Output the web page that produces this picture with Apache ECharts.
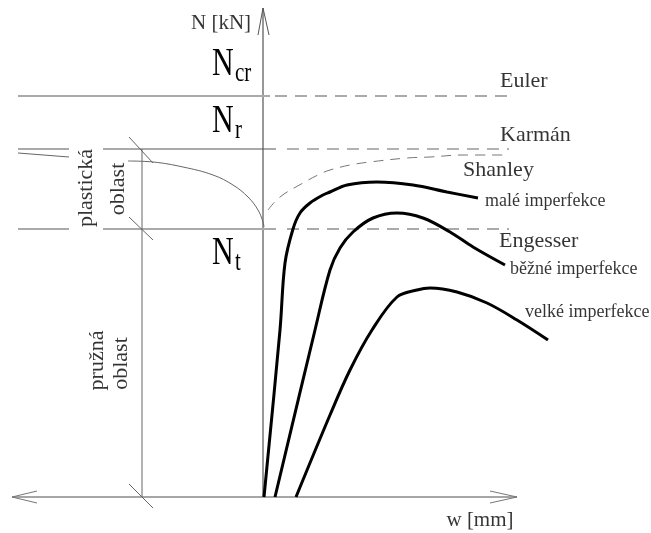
<!DOCTYPE html>
<html><head><meta charset="utf-8">
<script src="https://cdn.jsdelivr.net/npm/echarts@6/dist/echarts.min.js"></script>
<style>html,body{margin:0;padding:0;background:#fff}#c{width:651px;height:533px}</style>
</head><body><div id="c"></div>
<script>
// ---- data (w, N) with origin at the axis intersection ----
const N_cr = 401, N_r = 348, N_t = 268;
const wAxis = [[-251, 0], [254, 0]];
const wArrowLeft = [[-226, 6], [-251, 0], [-226, -6]];
const wArrowRight = [[227, 6], [254, 0], [227, -6]];
const nAxis = [[0, 0], [0, 489]];
const nArrow = [[-5, 462], [0, 489], [6, 462]];

const eulerSolid = [[-245, N_cr], [7, N_cr]];
const eulerDash = [[12, N_cr], [246, N_cr]];
const karmanSolidL = [[-245, N_r], [-194, N_r]];
const karmanSolid = [[-160, N_r], [13, N_r]];
const karmanDash = [[24, N_r], [246, N_r]];
const ntSolidL = [[-245, N_t], [-194, N_t]];
const ntSolid = [[-160, N_t], [13, N_t]];
const ntDash = [[24, N_t], [246, N_t]];

const regionLine = [[-121, 0], [-121, N_r]];
const tick1 = [[-134, 360], [-110, 334]];
const tick2 = [[-134, 280], [-110, 257]];
const tick3 = [[-134, 13], [-110, -11]];

const plasticLeft = [[-245, 344], [-194, 340]];
const plasticCurve = [[-135, 336], [-110, 335], [-80, 330], [-50, 322], [-30, 312], [-15, 300], [-5, 287], [0, 275], [1, 270]];
const shanley = [[5, 287], [17, 300], [40, 314], [57, 323], [67, 327], [87, 332], [107, 335], [144, 339], [167, 340], [200, 342], [245, 342]];

const smallImp = [[1, 0], [17, 167], [22, 234], [30, 268], [37, 284], [47, 294], [60, 302], [67, 305], [84, 312], [114, 315], [150, 312], [184, 305], [215, 299]];
const normalImp = [[12, 0], [52, 167], [67, 227], [77, 249], [90, 265], [110, 279], [134, 284], [160, 279], [187, 265], [210, 250], [242, 232]];
const largeImp = [[33, 0], [67, 82], [87, 127], [109, 167], [134, 200], [154, 207], [167, 209], [194, 205], [224, 194], [254, 177], [285, 157]];

const textLabels = [
  ['Euler', 237, 416],
  ['Karmán', 237, 362],
  ['Shanley', 200, 327],
  ['Engesser', 236, 256],
];
const smallLabels = [
  ['malé imperfekce', 222, 296],
  ['běžné imperfekce', 247, 228],
  ['velké imperfekce', 262, 185],
];
const axisNames = [
  ['N [kN]', -42, 474],
  ['w [mm]', 217, -23.5],
];
const regionLabels = [
  ['plastická', -177, 309],
  ['oblast', -145, 308],
  ['pružná', -166, 136.5],
  ['oblast', -142, 133.5],
];
const levelLabels = [
  ['N', 'cr', -51, 419],
  ['N', 'r', -51, 362],
  ['N', 't', -51, 230],
];

// ---- chart ----
const FONT = '"Liberation Serif", "Times New Roman", serif';
function seg(data, color, width, dash, smooth) {
  return {
    type: 'line', data: data, symbol: 'none', silent: true, clip: false,
    smooth: smooth || false,
    lineStyle: { color: color, width: width, type: dash || 'solid', cap: 'butt' },
    z: 2
  };
}
function labelSeries(items, size, align, rotate) {
  return {
    type: 'scatter', symbolSize: 0, silent: true, clip: false,
    data: items.map(d => ({ name: d[0], value: [d[1], d[2]] })),
    label: {
      show: true, position: [0, 0], formatter: p => p.name,
      align: align, verticalAlign: 'middle', rotate: rotate || 0,
      fontFamily: FONT, fontSize: size, color: '#000'
    },
    z: 5
  };
}

const chart = echarts.init(document.getElementById('c'), null, { renderer: 'canvas' });
chart.setOption({
  animation: false,
  backgroundColor: '#fff',
  grid: { left: 0, right: 0, top: 0, bottom: 0 },
  xAxis: { type: 'value', min: -263, max: 388, show: false },
  yAxis: { type: 'value', min: -36, max: 497, show: false },
  series: [
    seg(wAxis, '#a6a6a6', 2),
    seg(wArrowLeft, '#777', 1),
    seg(wArrowRight, '#777', 1),
    seg(nAxis, '#333', 1),
    seg(nArrow, '#555', 1),
    seg(eulerSolid, '#aaa', 2),
    seg(eulerDash, '#aaa', 2, [12, 8]),
    seg(karmanSolidL, '#555', 1),
    seg(karmanSolid, '#555', 1),
    seg(karmanDash, '#666', 1.2, [12, 8]),
    seg(ntSolidL, '#aaa', 2),
    seg(ntSolid, '#aaa', 2),
    seg(ntDash, '#aaa', 2, [12, 8]),
    seg(regionLine, '#666', 1),
    seg(tick1, '#666', 1),
    seg(tick2, '#666', 1),
    seg(tick3, '#666', 1),
    seg(plasticLeft, '#666', 1),
    seg(plasticCurve, '#666', 1, 'solid', 0.4),
    seg(shanley, '#777', 1, [10, 7], 0.4),
    seg(smallImp, '#000', 3, 'solid', 0.35),
    seg(normalImp, '#000', 3, 'solid', 0.35),
    seg(largeImp, '#000', 3, 'solid', 0.35),
    labelSeries(textLabels, 22, 'left'),
    labelSeries(smallLabels, 18, 'left'),
    labelSeries(axisNames, 21, 'center'),
    labelSeries(regionLabels, 22, 'center', 90),
    {
      type: 'custom', silent: true, clip: false, z: 6,
      data: levelLabels.map(d => [d[2], d[3], d[0], d[1]]),
      renderItem: function (params, api) {
        const p = api.coord([api.value(0), api.value(1)]);
        const d = levelLabels[params.dataIndex];
        return {
          type: 'group',
          children: [
            { type: 'text', x: p[0], y: p[1], scaleY: 1.3,
              style: { text: d[0], x: 0, y: -0.3375 * 30, font: '30px ' + FONT, fill: '#000', align: 'left', verticalAlign: 'middle' } },
            { type: 'text', x: p[0] + 23, y: p[1] + 5, scaleY: 1.35,
              style: { text: d[1], x: 0, y: -0.3375 * 21, font: '21px ' + FONT, fill: '#000', align: 'left', verticalAlign: 'middle' } }
          ]
        };
      }
    }
  ]
});
</script>
</body></html>
